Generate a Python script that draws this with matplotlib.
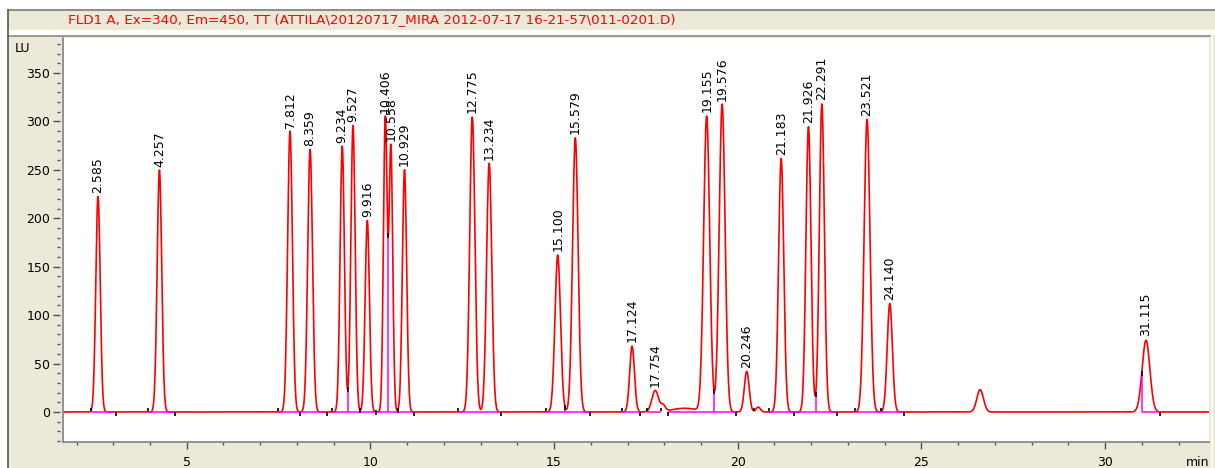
import numpy as np
import matplotlib
matplotlib.use('Agg')
import matplotlib.pyplot as plt
from matplotlib.ticker import MultipleLocator
from matplotlib.patches import Rectangle
from matplotlib.lines import Line2D

title = r'FLD1 A, Ex=340, Em=450, TT (ATTILA\20120717_MIRA 2012-07-17 16-21-57\011-0201.D)'

# labelled peaks: retention time (min), height (LU), width sigma (min)
peak_rt = [2.585, 4.257, 7.812, 8.359, 9.234, 9.527, 9.916, 10.406, 10.558, 10.929,
           12.775, 13.234, 15.100, 15.579, 17.124, 17.754, 19.155, 19.576, 20.246,
           21.183, 21.926, 22.291, 23.521, 24.140, 31.115]
peak_h = [223, 250, 290, 271, 275, 296, 198, 303, 274, 250,
          305, 257, 162, 283, 68, 22, 305, 318, 42,
          262, 295, 318, 302, 112, 74]
peak_sd = [0.060, 0.062, 0.065, 0.065, 0.058, 0.058, 0.058, 0.050, 0.050, 0.058,
           0.070, 0.070, 0.075, 0.075, 0.065, 0.090, 0.082, 0.080, 0.065,
           0.070, 0.068, 0.068, 0.080, 0.070, 0.105]

# small unlabelled features (shoulder, hump, bumps)
extra_rt = [17.97, 18.55, 20.56, 26.60]
extra_h = [6, 3.8, 5, 23]
extra_sd = [0.06, 0.35, 0.06, 0.09]

# integration baseline (magenta) segments and peak-split drop lines
base_start = [2.40, 3.94, 7.48, 8.95, 12.39, 14.78, 16.86, 17.54, 18.11, 20.84, 23.18, 31.00]
base_end = [3.08, 4.67, 8.78, 11.18, 13.56, 15.98, 17.35, 17.92, 19.96, 22.69, 24.54, 31.49]
drop_t = [9.38, 9.71, 10.15, 10.49, 10.75, 15.30, 19.36, 22.12, 31.00]

# event marks on the baseline (+1 above, -1 below)
event_t = [2.40, 3.08, 3.94, 4.67, 7.48, 8.08, 8.81, 8.95, 11.18, 12.39, 13.56,
           14.78, 15.98, 16.86, 17.35, 17.54, 17.92, 18.11, 19.96, 20.45, 20.84,
           21.54, 22.69, 23.18, 23.89, 24.54, 31.49]
event_dir = [1, -1, 1, -1, 1, -1, -1, 1, -1, 1, -1,
             1, -1, 1, -1, 1, 1, -1, -1, 1, 1,
             -1, -1, 1, 1, -1, -1]

x_ticks = [5, 10, 15, 20, 25, 30]
y_ticks = [0, 50, 100, 150, 200, 250, 300, 350]

W, H = 1215, 468
beige = '#ece9d8'

def fx(px):
    return px / W

def fy(py):
    return 1 - py / H

# build the trace from the peak table
t = np.arange(1.5, 33.0, 0.01)
sig = np.zeros_like(t)
for rt, h, sd in zip(peak_rt + extra_rt, peak_h + extra_h, peak_sd + extra_sd):
    sig += h * np.exp(-0.5 * ((t - rt) / sd) ** 2)

fig = plt.figure(figsize=(W / 100, H / 100), dpi=100, facecolor='white')

# window-like panels (behind the axes)
fig.patches.append(Rectangle((fx(8), fy(468)), fx(1215) - fx(8), fy(35) - fy(468),
                             transform=fig.transFigure, facecolor=beige, edgecolor='none',
                             zorder=-10))
fig.patches.append(Rectangle((fx(8), fy(30)), fx(1215) - fx(8), fy(10) - fy(30),
                             transform=fig.transFigure, facecolor=beige, edgecolor='none',
                             zorder=-10))
for xs, ys, c in [([8, 1215], [10, 10], '#7a7a7a'),
                  ([8, 1213], [31, 31], 'white'),
                  ([8, 1210], [35.5, 35.5], '#8c8c8c'),
                  ([7.5, 7.5], [10, 468], '#555555'),
                  ([1211.5, 1211.5], [31, 468], 'white')]:
    fig.lines.append(Line2D([fx(v) for v in xs], [fy(v) for v in ys],
                            transform=fig.transFigure, color=c, lw=1.2, zorder=-5))

ax = fig.add_axes([fx(63), fy(442), fx(1209) - fx(63), fy(38) - fy(442)])
ax.set_facecolor('white')

ax.plot(t, sig, color='#ff0000', lw=1.2, zorder=2)
ax.hlines([0] * len(base_start), base_start, base_end, color='#ff00ff', lw=1.1, zorder=3)
drop_h = np.interp(drop_t, t, sig)
ax.vlines(drop_t, 0, drop_h, color='#ff00ff', lw=1.1, zorder=3)
ax.vlines(drop_t, drop_h - 3, drop_h + 2, color='black', lw=1.1, zorder=4)
ev_low = [0.5 * d for d in event_dir]
ev_top = [4.5 * d for d in event_dir]
ax.vlines(event_t, ev_low, ev_top, color='black', lw=1.2, zorder=4)

label_h = np.interp(peak_rt, t, sig)
for rt, h in zip(peak_rt, label_h):
    ax.text(rt, h + 4, '%.3f' % rt, rotation=90, ha='center', va='bottom',
            fontsize=9, color='black', zorder=5)

ax.set_xlim(1.632, 32.83)
ax.set_ylim(-31, 386)
ax.set_xticks(x_ticks)
ax.set_yticks(y_ticks)
ax.xaxis.set_minor_locator(MultipleLocator(1))
ax.yaxis.set_minor_locator(MultipleLocator(10))
ax.tick_params(axis='both', which='major', length=5, width=1, color='#505050',
               labelsize=9, labelcolor='black')
ax.tick_params(axis='both', which='minor', length=2.5, width=1, color='#505050')
ax.tick_params(axis='x', which='major', pad=5)
ax.tick_params(axis='y', which='major', pad=2)

for s in ['top', 'right']:
    ax.spines[s].set_visible(False)
ax.spines['bottom'].set_color('#8a8a8a')
ax.spines['bottom'].set_linewidth(1.3)
ax.spines['left'].set_position(('outward', 2.2))
ax.spines['left'].set_visible(False)
ax.plot([0, 0], [0, 1], transform=ax.transAxes, color='#8a8a8a', lw=1.3, clip_on=False)

fig.text(fx(68), fy(19.5), title, color='#ff0000', fontsize=9.7, va='center', ha='left')
fig.text(fx(15), fy(48), 'LU', fontsize=9, va='center', ha='left')
fig.text(fx(1209), fy(462), 'min', fontsize=9, va='center', ha='right')

fig.savefig('out.png', dpi=100, facecolor=fig.get_facecolor())
